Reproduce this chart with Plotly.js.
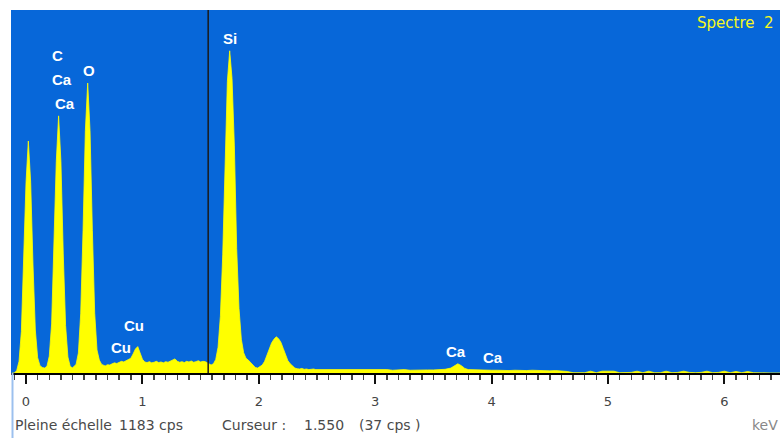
<!DOCTYPE html>
<html>
<head>
<meta charset="utf-8">
<script src="https://cdn.plot.ly/plotly-3.0.1.min.js"></script>
<style>html,body{margin:0;padding:0;background:#fff;}#chart{width:780px;height:438px;}</style>
</head>
<body>
<div id="chart"></div>
<script>
// Spectrum channels (keV) and counts (cps), low-energy region
const energyLow = [-0.12,-0.10,-0.08,-0.06,-0.04,-0.02,0.00,0.02,0.04,0.06,0.08,0.10,0.12,0.14,0.16,0.18,0.20,0.22,0.24,0.26,0.28,0.30,0.32,0.34,0.36,0.38,0.40,0.43,0.45,0.47,0.49,0.51,0.53,0.55,0.57,0.59,0.61,0.63,0.65,0.68,0.70,0.72,0.74,0.76,0.78,0.80,0.82,0.84,0.86,0.88,0.90,0.92,0.94,0.96,0.98,1.00,1.02,1.04,1.06,1.08,1.10,1.12,1.14,1.16,1.18,1.20,1.22,1.24,1.26,1.28,1.30,1.32,1.34,1.36,1.38,1.40,1.42,1.44,1.46,1.48,1.50,1.52,1.54];
const countsLow = [0,0,8,38,135,350,620,756,622,352,140,50,24,18,16,22,55,160,388,688,838,688,388,155,52,21,17,28,65,195,465,790,945,790,465,195,75,42,28,23,27,26,30,33,31,35,38,36,40,42,48,62,78,86,64,45,36,34,37,33,35,38,34,36,33,37,35,38,42,46,38,35,37,34,38,36,39,35,37,40,36,38,37];
// Si region
const energySi = [1.57,1.59,1.61,1.63,1.65,1.67,1.69,1.71,1.73,1.75,1.77,1.79,1.81,1.83,1.85,1.87,1.89,1.91,1.93,1.95,1.97,1.99,2.01,2.03,2.05,2.07,2.09,2.11,2.13,2.15,2.17,2.19,2.21,2.23,2.25,2.27,2.29,2.31,2.33,2.35,2.37,2.39,2.41,2.43,2.45,2.47,2.49];
const countsSi = [30,26,30,44,84,185,385,678,950,1050,960,740,405,210,110,66,48,42,33,24,18,16,20,26,38,58,82,98,110,118,112,100,80,58,40,30,22,16,14,13,15,12,13,11,12,13,11];
// High-energy region
const energyHigh = [2.55,2.60,2.65,2.70,2.75,2.80,2.85,2.90,2.95,3.00,3.05,3.10,3.15,3.20,3.25,3.30,3.35,3.40,3.45,3.50,3.55,3.60,3.65,3.68,3.71,3.74,3.77,3.80,3.85,3.90,3.95,4.00,4.05,4.10,4.15,4.20,4.25,4.30,4.35,4.40,4.45,4.50,4.55,4.60,4.65,4.70,4.75,4.80,4.85,4.90,4.95,5.00,5.05,5.10,5.15,5.20,5.25,5.30,5.35,5.40,5.45,5.50,5.55,5.60,5.65,5.70,5.75,5.80,5.85,5.90,5.95,6.00,6.05,6.10,6.15,6.20,6.25,6.30,6.35,6.40,6.45,6.50];
const countsHigh = [11,12,10,11,12,10,11,10,11,10,10,11,9,10,11,9,10,11,10,10,11,12,16,24,30,24,15,11,10,9,10,9,9,8,8,9,8,8,9,8,8,7,8,7,5,1,2,1,6,1,6,7,6,1,1,2,6,1,6,1,1,6,1,2,6,2,1,2,6,1,2,6,1,5,1,5,1,0,0,0,0,0];

// Peak labels
const peakLabels = ['C','Ca','Ca','O','Si','Cu','Cu','Ca','Ca'];
const labelEnergy = [0.271,0.309,0.335,0.539,1.753,0.928,0.816,3.690,4.008];
const labelCps = [1035,955,878,986,1091,156,82,70,49];

const tickVals = [0,1,2,3,4,5,6];
const tickText = ['0','1','2','3','4','5','6'];

const fullScale = 1183;
const cursorEnergy = 1.565;
const spectrumName = 'Spectre\u00a0\u00a02';
const footerParts = ['Pleine échelle', '1183 cps', 'Curseur :', '1.550', '(37 cps )'];
const footerLeftPx = [13, 117, 220, 302, 357];

const energy = energyLow.concat(energySi, energyHigh);
const counts = countsLow.concat(countsSi, countsHigh);

const plotL = 11, plotR = 780, plotT = 10, plotB = 373;
const pw = plotR - plotL, ph = plotB - plotT;
const px2paperX = p => (p - plotL) / pw;
const px2paperY = p => (plotB - p) / ph;

const annotations = [];
peakLabels.forEach((t, i) => {
  annotations.push({
    x: labelEnergy[i], y: labelCps[i], xref: 'x', yref: 'y', text: t, showarrow: false,
    xanchor: 'center', yanchor: 'middle',
    font: {family: 'Liberation Sans, Arial, sans-serif', size: 15, color: '#ffffff', weight: 'bold'}
  });
});
annotations.push({
  x: px2paperX(695), y: px2paperY(23), xref: 'paper', yref: 'paper', text: spectrumName,
  showarrow: false, xanchor: 'left', yanchor: 'middle',
  font: {family: 'DejaVu Sans, sans-serif', size: 15, color: '#f8f820'}
});
footerParts.forEach((t, i) => {
  annotations.push({
    x: px2paperX(footerLeftPx[i]), y: px2paperY(425), xref: 'paper', yref: 'paper', text: t,
    showarrow: false, xanchor: 'left', yanchor: 'middle',
    font: {family: 'DejaVu Sans, sans-serif', size: 14, color: '#4a4a4a'}
  });
});
annotations.push({
  x: 1, y: px2paperY(425), xref: 'paper', yref: 'paper', text: 'keV',
  showarrow: false, xanchor: 'right', yanchor: 'middle',
  font: {family: 'DejaVu Sans, sans-serif', size: 14, color: '#888888'}
});

const trace = {
  x: energy, y: counts, type: 'scatter', mode: 'lines',
  fill: 'tozeroy', fillcolor: '#ffff00',
  line: {color: '#ffff00', width: 0.8},
  hoverinfo: 'skip'
};

const layout = {
  width: 780, height: 438,
  margin: {l: plotL, r: 780 - plotR, t: plotT, b: 438 - plotB, pad: 0},
  paper_bgcolor: '#ffffff',
  plot_bgcolor: '#0767d9',
  showlegend: false,
  xaxis: {
    range: [-0.129, 6.478], showgrid: false, zeroline: false,
    showline: true, linecolor: '#000000', linewidth: 2,
    ticks: 'outside', ticklen: 9, tickwidth: 2, tickcolor: '#111111',
    tickvals: tickVals, ticktext: tickText,
    tickfont: {family: 'DejaVu Sans, sans-serif', size: 13, color: '#444444'},
    ticklabelstandoff: 6,
    minor: {dtick: 0.1, tick0: 0, ticks: 'outside', ticklen: 5, tickwidth: 1.5, tickcolor: '#444444', showgrid: false},
    fixedrange: true
  },
  yaxis: {range: [0, fullScale], visible: false, showgrid: false, zeroline: false, fixedrange: true},
  shapes: [
    {type: 'line', xref: 'x', yref: 'paper', x0: cursorEnergy, x1: cursorEnergy, y0: 0, y1: 1,
     line: {color: '#1a1a1a', width: 1.5}},
    {type: 'line', xref: 'paper', yref: 'paper', x0: px2paperX(12.5), x1: px2paperX(12.5),
     y0: px2paperY(438), y1: 0, line: {color: '#9cc0ee', width: 2}}
  ],
  annotations: annotations
};

Plotly.newPlot('chart', [trace], layout, {displayModeBar: false, staticPlot: true});
</script>
</body>
</html>
